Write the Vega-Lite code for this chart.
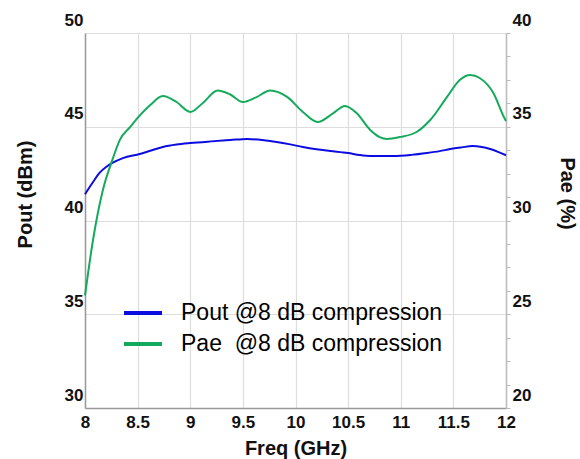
{
  "$schema": "https://vega.github.io/schema/vega-lite/v6.json",
  "width": 421,
  "height": 375,
  "autosize": {"type": "none"},
  "padding": {"left": 85, "top": 33, "right": 74, "bottom": 51},
  "background": "white",
  "config": {
    "font": "Liberation Sans",
    "view": {"stroke": null},
    "axis": {
      "labelFont": "Liberation Sans",
      "labelFontSize": 17,
      "labelFontWeight": "bold",
      "labelColor": "#111111",
      "titleFont": "Liberation Sans",
      "titleFontSize": 20,
      "titleFontWeight": "bold",
      "titleColor": "#111111",
      "gridColor": "#dddddd",
      "gridWidth": 1.2,
      "domainColor": "#999999",
      "domainWidth": 1.5,
      "tickColor": "#bbbbbb",
      "labelOverlap": false
    },
    "legend": {
      "labelFont": "Liberation Sans"
    }
  },
  "data": {
    "values": [
      {"freq": 8.0, "value": 41.4, "series": "Pout @8 dB compression"},
      {"freq": 8.07, "value": 42.0, "series": "Pout @8 dB compression"},
      {"freq": 8.14, "value": 42.55, "series": "Pout @8 dB compression"},
      {"freq": 8.2, "value": 42.85, "series": "Pout @8 dB compression"},
      {"freq": 8.26, "value": 43.07, "series": "Pout @8 dB compression"},
      {"freq": 8.36, "value": 43.33, "series": "Pout @8 dB compression"},
      {"freq": 8.52, "value": 43.55, "series": "Pout @8 dB compression"},
      {"freq": 8.62, "value": 43.72, "series": "Pout @8 dB compression"},
      {"freq": 8.74, "value": 43.92, "series": "Pout @8 dB compression"},
      {"freq": 8.87, "value": 44.05, "series": "Pout @8 dB compression"},
      {"freq": 9.0, "value": 44.13, "series": "Pout @8 dB compression"},
      {"freq": 9.2, "value": 44.22, "series": "Pout @8 dB compression"},
      {"freq": 9.38, "value": 44.29, "series": "Pout @8 dB compression"},
      {"freq": 9.54, "value": 44.35, "series": "Pout @8 dB compression"},
      {"freq": 9.7, "value": 44.28, "series": "Pout @8 dB compression"},
      {"freq": 9.82, "value": 44.19, "series": "Pout @8 dB compression"},
      {"freq": 9.95, "value": 44.06, "series": "Pout @8 dB compression"},
      {"freq": 10.07, "value": 43.92, "series": "Pout @8 dB compression"},
      {"freq": 10.2, "value": 43.8, "series": "Pout @8 dB compression"},
      {"freq": 10.33, "value": 43.71, "series": "Pout @8 dB compression"},
      {"freq": 10.5, "value": 43.6, "series": "Pout @8 dB compression"},
      {"freq": 10.61, "value": 43.49, "series": "Pout @8 dB compression"},
      {"freq": 10.71, "value": 43.44, "series": "Pout @8 dB compression"},
      {"freq": 10.93, "value": 43.44, "series": "Pout @8 dB compression"},
      {"freq": 11.1, "value": 43.5, "series": "Pout @8 dB compression"},
      {"freq": 11.25, "value": 43.6, "series": "Pout @8 dB compression"},
      {"freq": 11.37, "value": 43.7, "series": "Pout @8 dB compression"},
      {"freq": 11.47, "value": 43.81, "series": "Pout @8 dB compression"},
      {"freq": 11.58, "value": 43.9, "series": "Pout @8 dB compression"},
      {"freq": 11.68, "value": 43.97, "series": "Pout @8 dB compression"},
      {"freq": 11.77, "value": 43.92, "series": "Pout @8 dB compression"},
      {"freq": 11.85, "value": 43.81, "series": "Pout @8 dB compression"},
      {"freq": 11.93, "value": 43.65, "series": "Pout @8 dB compression"},
      {"freq": 12.0, "value": 43.48, "series": "Pout @8 dB compression"},
      {"freq": 8.0, "value": 26.0, "series": "Pae\u00a0 @8 dB compression"},
      {"freq": 8.076, "value": 28.96, "series": "Pae\u00a0 @8 dB compression"},
      {"freq": 8.17, "value": 31.63, "series": "Pae\u00a0 @8 dB compression"},
      {"freq": 8.26, "value": 33.23, "series": "Pae\u00a0 @8 dB compression"},
      {"freq": 8.33, "value": 34.29, "series": "Pae\u00a0 @8 dB compression"},
      {"freq": 8.43, "value": 34.99, "series": "Pae\u00a0 @8 dB compression"},
      {"freq": 8.5, "value": 35.47, "series": "Pae\u00a0 @8 dB compression"},
      {"freq": 8.62, "value": 36.16, "series": "Pae\u00a0 @8 dB compression"},
      {"freq": 8.74, "value": 36.64, "series": "Pae\u00a0 @8 dB compression"},
      {"freq": 8.87, "value": 36.32, "series": "Pae\u00a0 @8 dB compression"},
      {"freq": 9.0, "value": 35.79, "series": "Pae\u00a0 @8 dB compression"},
      {"freq": 9.12, "value": 36.27, "series": "Pae\u00a0 @8 dB compression"},
      {"freq": 9.26, "value": 36.93, "series": "Pae\u00a0 @8 dB compression"},
      {"freq": 9.38, "value": 36.72, "series": "Pae\u00a0 @8 dB compression"},
      {"freq": 9.5, "value": 36.32, "series": "Pae\u00a0 @8 dB compression"},
      {"freq": 9.62, "value": 36.55, "series": "Pae\u00a0 @8 dB compression"},
      {"freq": 9.76, "value": 36.93, "series": "Pae\u00a0 @8 dB compression"},
      {"freq": 9.92, "value": 36.59, "series": "Pae\u00a0 @8 dB compression"},
      {"freq": 10.07, "value": 35.79, "series": "Pae\u00a0 @8 dB compression"},
      {"freq": 10.21, "value": 35.25, "series": "Pae\u00a0 @8 dB compression"},
      {"freq": 10.36, "value": 35.73, "series": "Pae\u00a0 @8 dB compression"},
      {"freq": 10.47, "value": 36.11, "series": "Pae\u00a0 @8 dB compression"},
      {"freq": 10.58, "value": 35.73, "series": "Pae\u00a0 @8 dB compression"},
      {"freq": 10.71, "value": 34.83, "series": "Pae\u00a0 @8 dB compression"},
      {"freq": 10.8, "value": 34.45, "series": "Pae\u00a0 @8 dB compression"},
      {"freq": 10.87, "value": 34.35, "series": "Pae\u00a0 @8 dB compression"},
      {"freq": 10.99, "value": 34.45, "series": "Pae\u00a0 @8 dB compression"},
      {"freq": 11.15, "value": 34.72, "series": "Pae\u00a0 @8 dB compression"},
      {"freq": 11.28, "value": 35.36, "series": "Pae\u00a0 @8 dB compression"},
      {"freq": 11.44, "value": 36.59, "series": "Pae\u00a0 @8 dB compression"},
      {"freq": 11.56, "value": 37.49, "series": "Pae\u00a0 @8 dB compression"},
      {"freq": 11.66, "value": 37.76, "series": "Pae\u00a0 @8 dB compression"},
      {"freq": 11.75, "value": 37.6, "series": "Pae\u00a0 @8 dB compression"},
      {"freq": 11.88, "value": 36.8, "series": "Pae\u00a0 @8 dB compression"},
      {"freq": 11.98, "value": 35.52, "series": "Pae\u00a0 @8 dB compression"},
      {"freq": 12.0, "value": 35.3, "series": "Pae\u00a0 @8 dB compression"}
    ]
  },
  "encoding": {
    "x": {
      "field": "freq",
      "type": "quantitative",
      "scale": {"domain": [8, 12], "nice": false, "zero": false},
      "axis": {
        "values": [8, 8.5, 9, 9.5, 10, 10.5, 11, 11.5, 12],
        "format": "~g",
        "tickSize": 0,
        "labelPadding": 6,
        "labelFlush": false,
        "title": "Freq (GHz)",
        "titleY": 40,
        "titleBaseline": "middle"
      }
    },
    "color": {
      "field": "series",
      "type": "nominal",
      "scale": {
        "domain": ["Pout @8 dB compression", "Pae\u00a0 @8 dB compression"],
        "range": ["#0c0ce0", "#14aa5c"]
      },
      "legend": {
        "title": null,
        "orient": "none",
        "legendX": 37,
        "legendY": 268,
        "symbolType": "stroke",
        "symbolSize": 1444,
        "symbolStrokeWidth": 4,
        "labelFontSize": 23,
        "labelFontWeight": "normal",
        "labelColor": "black",
        "labelOffset": 17,
        "labelLimit": 400,
        "rowPadding": 7,
        "clipHeight": 24,
        "padding": 0
      }
    }
  },
  "layer": [
    {
      "transform": [{"filter": {"field": "series", "equal": "Pout @8 dB compression"}}],
      "mark": {"type": "line", "interpolate": "monotone", "strokeWidth": 2},
      "encoding": {
        "y": {
          "field": "value",
          "type": "quantitative",
          "scale": {"domain": [30, 50], "nice": false, "zero": false},
          "axis": {
            "orient": "left",
            "values": [30, 35, 40, 45, 50],
            "format": "~g",
            "tickSize": 0,
            "labelPadding": 2,
            "labelBaseline": "alphabetic",
            "labelOffset": -8,
            "title": "Pout (dBm)",
            "titleX": -60,
            "titleY": 161,
            "titleBaseline": "middle",
            "titleAlign": "center",
            "titleAngle": -90
          }
        }
      }
    },
    {
      "transform": [{"filter": {"field": "series", "equal": "Pae\u00a0 @8 dB compression"}}],
      "mark": {"type": "line", "interpolate": "monotone", "strokeWidth": 2},
      "encoding": {
        "y": {
          "field": "value",
          "type": "quantitative",
          "scale": {"domain": [20, 40], "nice": false, "zero": false},
          "axis": {
            "orient": "right",
            "grid": false,
            "values": [20, 21.25, 22.5, 23.75, 25, 26.25, 27.5, 28.75, 30, 31.25, 32.5, 33.75, 35, 36.25, 37.5, 38.75, 40],
            "format": "~g",
            "labelExpr": "datum.value % 5 === 0 ? datum.label : ''",
            "tickSize": 4,
            "labelPadding": 2,
            "labelBaseline": "alphabetic",
            "labelOffset": -8,
            "domainColor": "#bbbbbb",
            "title": "Pae (%)",
            "titleX": 60,
            "titleY": 160,
            "titleBaseline": "middle",
            "titleAlign": "center",
            "titleAngle": 90
          }
        }
      }
    }
  ],
  "resolve": {"scale": {"y": "independent"}}
}
